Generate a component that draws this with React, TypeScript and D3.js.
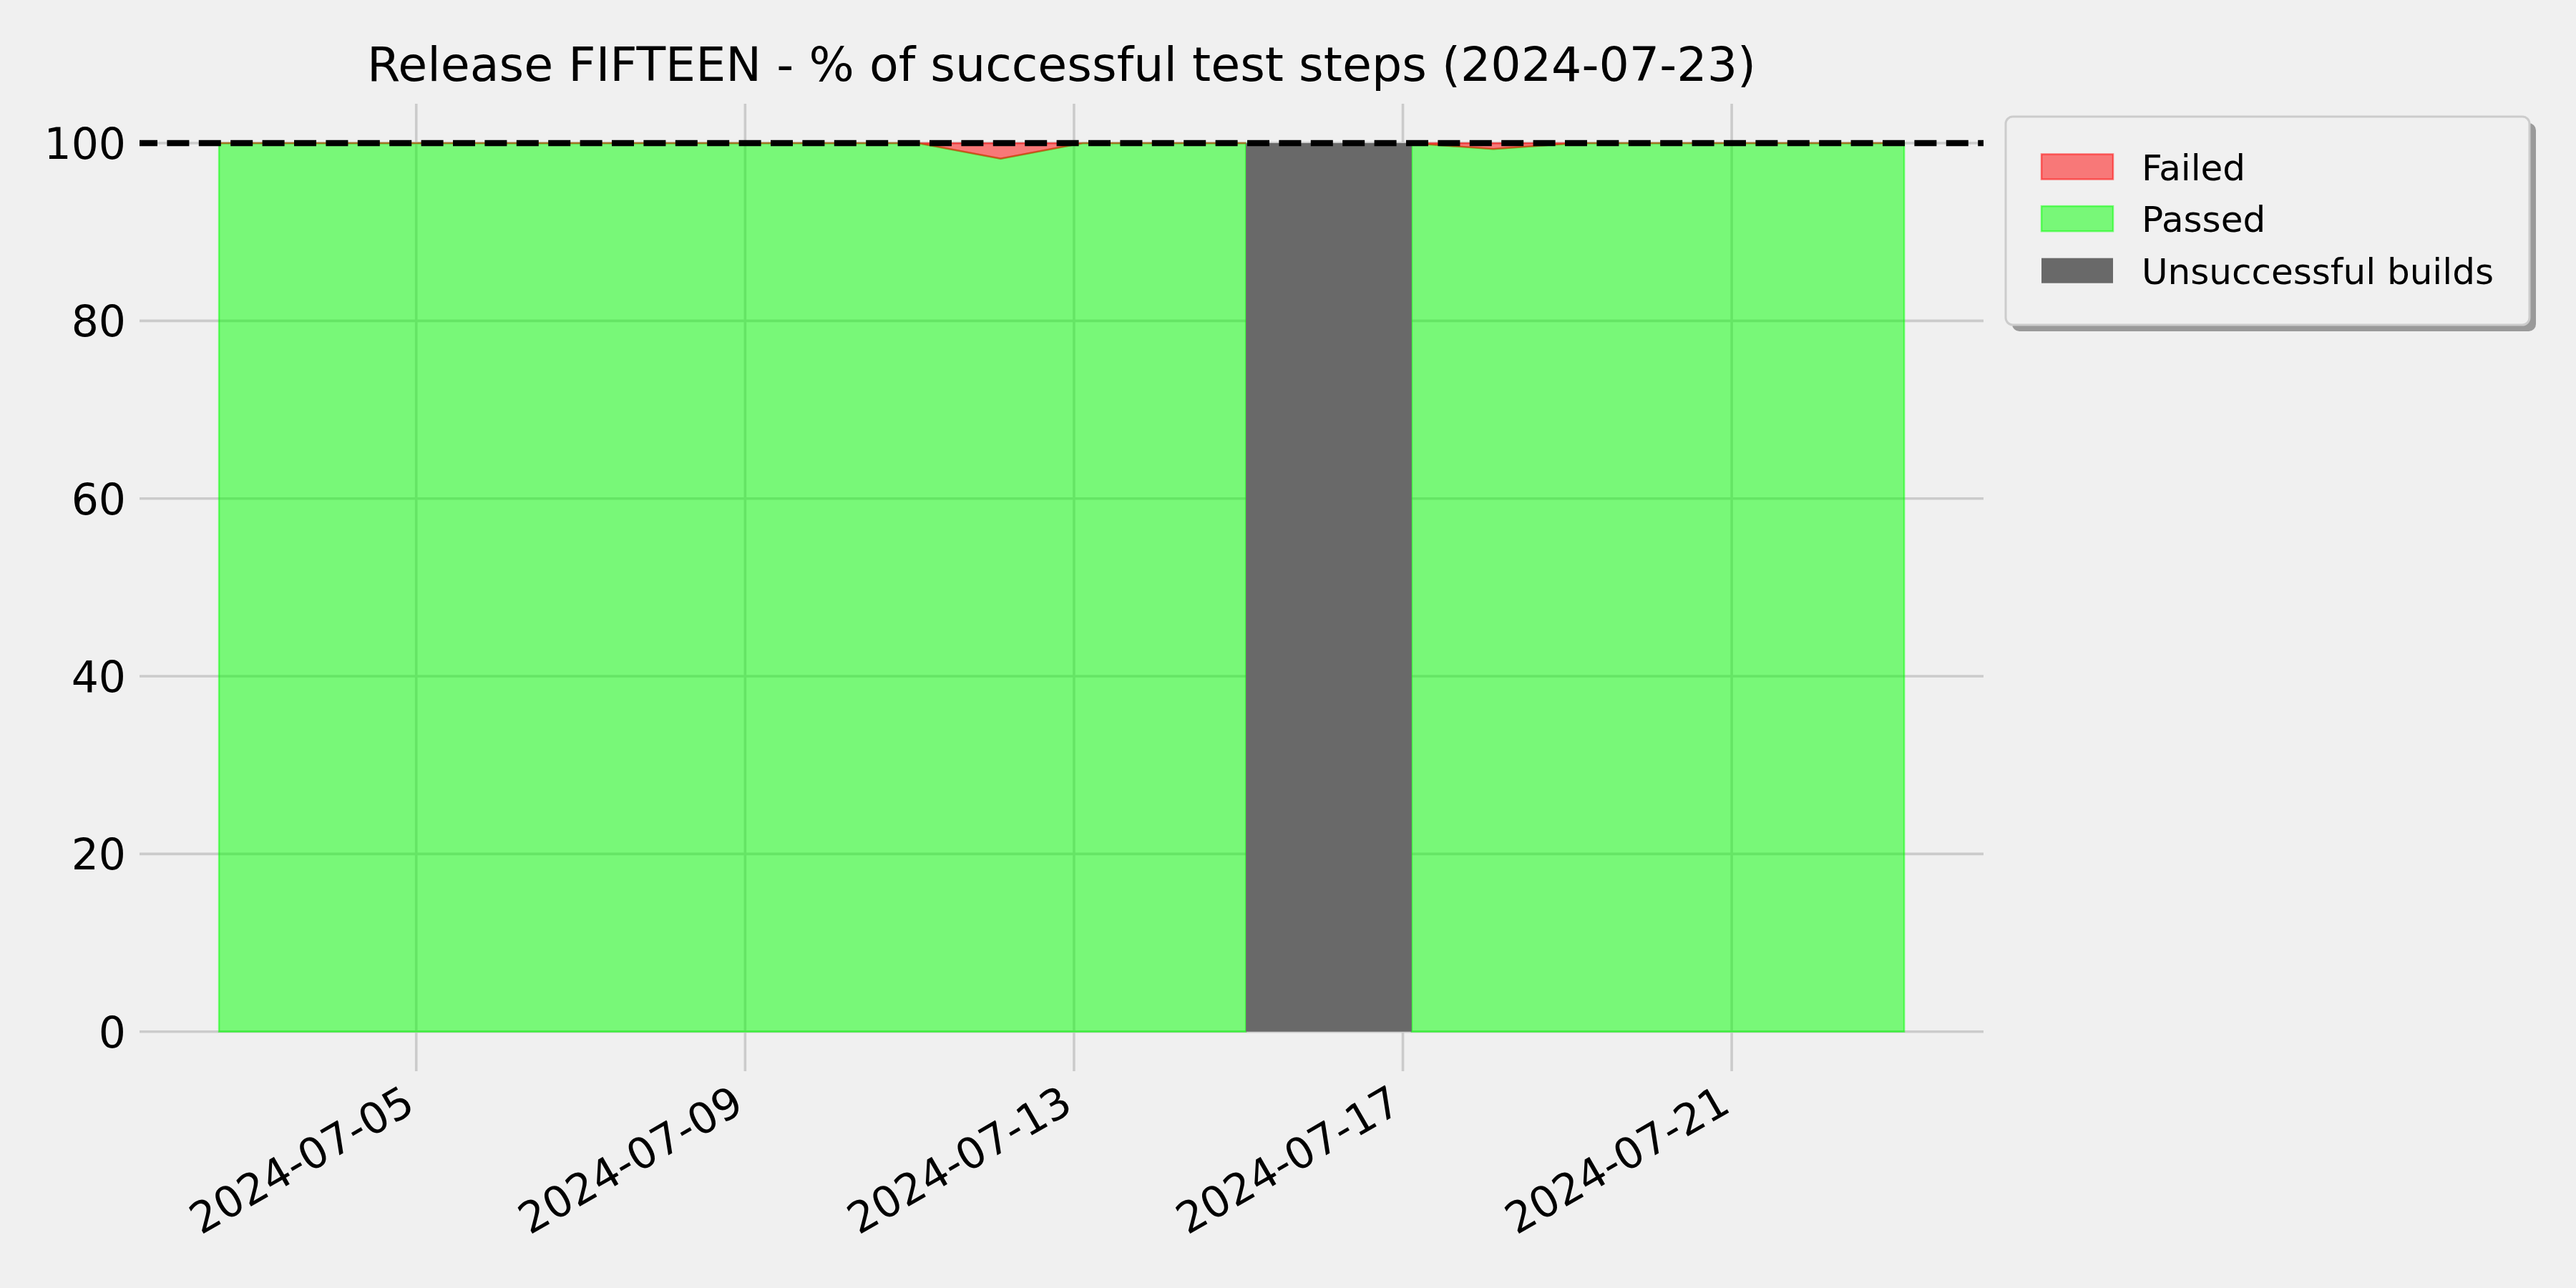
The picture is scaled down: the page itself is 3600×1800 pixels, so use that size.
import React from 'react';
import * as d3 from 'd3';

const W = 3600;
const H = 1800;

const titleText = 'Release FIFTEEN - % of successful test steps (2024-07-23)';

const buildTimes = [
  '2024-07-02T14:25', '2024-07-03T02:30', '2024-07-04T02:30', '2024-07-05T02:30',
  '2024-07-06T02:30', '2024-07-07T02:30', '2024-07-08T02:30', '2024-07-09T02:30',
  '2024-07-10T02:30', '2024-07-11T02:30', '2024-07-12T02:35', '2024-07-13T02:30',
  '2024-07-14T02:30', '2024-07-15T02:10', '2024-07-16T02:30', '2024-07-17T02:35',
  '2024-07-18T02:25', '2024-07-19T02:30', '2024-07-20T02:30', '2024-07-21T02:30',
  '2024-07-22T02:30', '2024-07-23T02:20',
];
const passedPct: (number | null)[] = [
  100, 100, 100, 100, 100, 100, 100, 100, 100, 100, 98.25, 100,
  100, 100, null, 100, 99.33, 100, 100, 100, 100, 100,
];
const buildOk = [
  true, true, true, true, true, true, true, true, true, true, true, true,
  true, true, false, true, true, true, true, true, true, true,
];

const yTicks = [0, 20, 40, 60, 80, 100];
const xTickDates = ['2024-07-05', '2024-07-09', '2024-07-13', '2024-07-17', '2024-07-21'];
const xDomain = ['2024-07-01T15:13', '2024-07-24T01:30'];
const yDomain = [-4.45, 104.43];
const targetPct = 100;
const legendLabels = ['Failed', 'Passed', 'Unsuccessful builds'];

const parseT = d3.timeParse('%Y-%m-%dT%H:%M');
const parseD = d3.timeParse('%Y-%m-%d');
const fmtD = d3.timeFormat('%Y-%m-%d');

const FONT = "'DejaVu Sans', sans-serif";

export default function App() {
  const left = 195, right = 2772, top = 145, bottom = 1497;
  const x = d3.scaleTime()
    .domain(xDomain.map((s) => parseT(s) as Date))
    .range([left, right]);
  const y = d3.scaleLinear().domain(yDomain).range([bottom, top]);

  const data = buildTimes.map((t, i) => ({ t: parseT(t) as Date, p: passedPct[i], ok: buildOk[i] }));

  const passedArea = d3.area<typeof data[0]>()
    .defined((d) => d.p != null)
    .x((d) => x(d.t))
    .y0(y(0))
    .y1((d) => y(d.p as number))(data) || '';
  const failedArea = d3.area<typeof data[0]>()
    .defined((d) => d.p != null)
    .x((d) => x(d.t))
    .y0((d) => y(d.p as number))
    .y1(y(targetPct))(data) || '';

  const grayRects = data
    .map((d, i) => ({ d, i }))
    .filter(({ d }) => !d.ok)
    .map(({ i }) => {
      const x0 = x(data[Math.max(0, i - 1)].t);
      const x1 = x(data[Math.min(data.length - 1, i + 1)].t);
      return { x0, x1 };
    });

  const xticks = xTickDates.map((s) => parseD(s) as Date);

  const legendColors = [
    { fill: 'red', op: 0.5, stroke: 'red' },
    { fill: 'lime', op: 0.5, stroke: 'lime' },
    { fill: '#696969', op: 1, stroke: 'none' },
  ];
  const lgX = 2803, lgY = 163, lgW = 732, lgH = 291;

  return (
    <svg width={W} height={H} style={{ position: 'absolute', left: 0, top: 0, background: '#f0f0f0' }} fontFamily={FONT}>
      <rect x={0} y={0} width={W} height={H} fill="#f0f0f0" />
      {/* grid */}
      {yTicks.map((v) => (
        <line key={'gy' + v} x1={left} x2={right} y1={y(v)} y2={y(v)} stroke="#cbcbcb" strokeWidth={3.6} />
      ))}
      {xticks.map((d, i) => (
        <line key={'gx' + i} x1={x(d)} x2={x(d)} y1={top} y2={bottom} stroke="#cbcbcb" strokeWidth={3.6} />
      ))}
      {/* areas */}
      <path d={passedArea} fill="lime" fillOpacity={0.5} stroke="lime" strokeOpacity={0.5} strokeWidth={2.5} />
      <path d={failedArea} fill="red" fillOpacity={0.5} stroke="red" strokeOpacity={0.5} strokeWidth={2.5} />
      {grayRects.map((r, i) => (
        <rect key={'g' + i} x={r.x0} y={y(targetPct)} width={r.x1 - r.x0} height={y(0) - y(targetPct)} fill="#696969" />
      ))}
      {/* target line */}
      <line x1={left} x2={right} y1={y(targetPct)} y2={y(targetPct)} stroke="#000" strokeWidth={8.4}
        strokeDasharray="31 13.4" strokeDashoffset={6} />
      {/* y tick labels */}
      {yTicks.map((v) => (
        <text key={'ly' + v} x={176} y={y(v) + 22} textAnchor="end" fontSize={60} fill="#000">{v}</text>
      ))}
      {/* x tick labels */}
      {xticks.map((d, i) => (
        <text key={'lx' + i} transform={`translate(${x(d) + 1},1552) rotate(-30)`} textAnchor="end" fontSize={60} fill="#000">
          {fmtD(d)}
        </text>
      ))}
      {/* title */}
      <text x={(left + right) / 2} y={113} textAnchor="middle" fontSize={66.6} fill="#000">{titleText}</text>
      {/* legend */}
      <rect x={lgX + 9} y={lgY + 9} width={lgW} height={lgH} rx={10} fill="#9a9a9a" />
      <rect x={lgX} y={lgY} width={lgW} height={lgH} rx={10} fill="#f0f0f0" stroke="#cccccc" strokeWidth={3} />
      {legendLabels.map((lab, i) => {
        const base = 251.5 + i * 72.6;
        const c = legendColors[i];
        return (
          <g key={'lg' + i}>
            <rect x={2853} y={base - 36} width={100} height={35} fill={c.fill} fillOpacity={c.op}
              stroke={c.stroke} strokeOpacity={0.5} strokeWidth={2.5} />
            <text x={2993} y={base} fontSize={50} fill="#000">{lab}</text>
          </g>
        );
      })}
    </svg>
  );
}
